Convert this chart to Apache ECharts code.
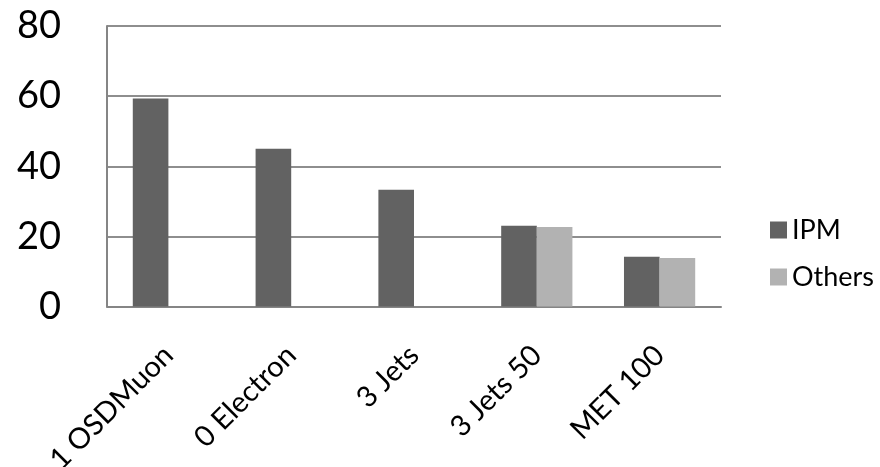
<!DOCTYPE html>
<html>
<head>
<meta charset="utf-8">
<script src="https://cdn.jsdelivr.net/npm/echarts@6/dist/echarts.min.js"></script>
<style>html,body{margin:0;padding:0;background:#fff}#c{width:880px;height:467px}</style>
</head>
<body>
<div id="c"></div>
<script>
var categories = ['1 OSDMuon', '0 Electron', '3 Jets', '3 Jets 50', 'MET 100'];
var ipm = [59.3, 45.0, 33.3, 23.0, 14.2];
var others = [null, null, null, 22.7, 13.8];
var seriesNames = ['IPM', 'Others'];

var FONT = 'Lato';
var chart = echarts.init(document.getElementById('c'), null, {renderer: 'canvas'});
chart.setOption({
  animation: false,
  backgroundColor: '#ffffff',
  grid: {left: 107, right: 159, top: 26, bottom: 160.5, containLabel: false, outerBoundsMode: 'none'},
  legend: {
    orient: 'vertical',
    left: 765,
    top: 210,
    itemWidth: 17,
    itemHeight: 17,
    itemGap: 17,
    icon: 'rect',
    data: seriesNames,
    textStyle: {fontFamily: FONT, fontSize: 27, color: '#000', lineHeight: 30}
  },
  xAxis: {
    type: 'category',
    data: categories,
    axisLine: {lineStyle: {color: '#858585', width: 2}},
    axisTick: {show: false},
    axisLabel: {rotate: 45, margin: 44, interval: 0, fontFamily: FONT, fontSize: 29, color: '#000'}
  },
  yAxis: {
    type: 'value',
    min: 0, max: 80, interval: 20,
    axisLine: {show: true, lineStyle: {color: '#858585', width: 2}},
    axisTick: {show: false},
    splitLine: {lineStyle: {color: '#8e8e8e', width: 2}},
    axisLabel: {margin: 46, fontFamily: FONT, fontSize: 38, color: '#000'}
  },
  series: [
    {name: seriesNames[0], type: 'bar', data: ipm, barGap: '0%', barCategoryGap: '42%', itemStyle: {color: '#626262'}},
    {name: seriesNames[1], type: 'bar', data: others, barGap: '0%', barCategoryGap: '42%', itemStyle: {color: '#b2b2b2'}}
  ]
});
</script>
</body>
</html>
